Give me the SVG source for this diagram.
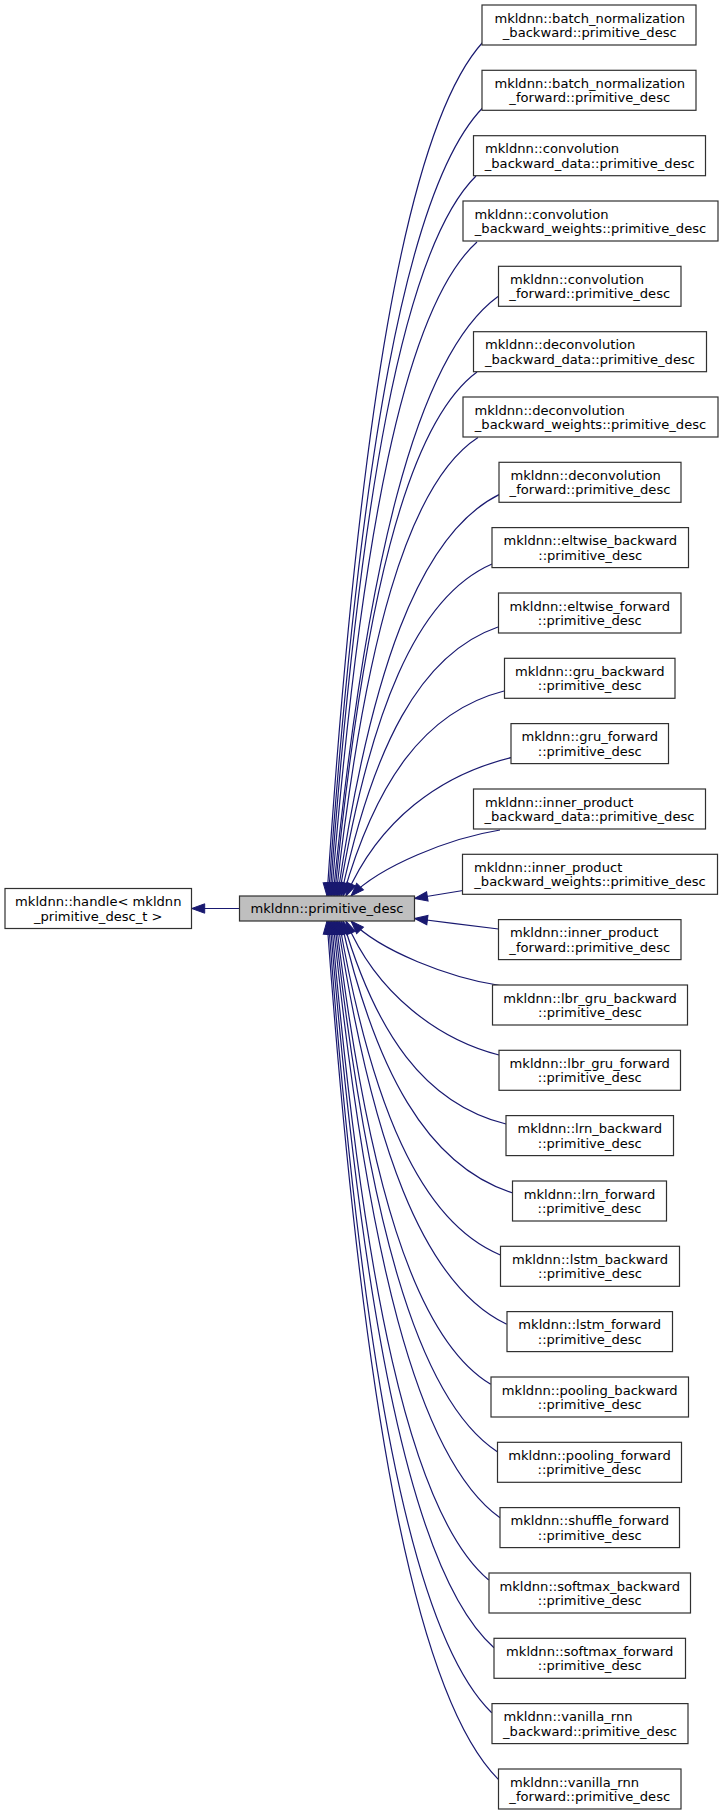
<svg xmlns="http://www.w3.org/2000/svg" width="723" height="1816" viewBox="0 0 723 1816">
<style>
text{font-family:"DejaVu Sans","Liberation Sans",sans-serif;font-size:13.1px;fill:#000}
.m{text-anchor:middle}
.n rect{fill:#fff;stroke:#303030;stroke-width:1.2}
.c rect{fill:#bfbfbf;stroke:#303030;stroke-width:1.2}
#edges path{fill:none;stroke:#191970;stroke-width:1.2;marker-end:url(#ah)}
</style>
<defs>
<marker id="ah" markerUnits="userSpaceOnUse" markerWidth="14" markerHeight="10" refX="13" refY="5" orient="auto" overflow="visible">
<path d="M0,0.3 L13,5 L0,9.7 z" fill="#191970" stroke="#191970" stroke-width="1"/>
</marker>
</defs>
<rect width="723" height="1816" fill="#fff"/>
<g id="edges">
<path d="M239.5,908.5 L191.7,908.5"/>
<path d="M483,42 C405,127.4 358.2,426.3 327,896"/>
<path d="M483,107.5 C405.8,186.4 359.4,462.3 328.5,896"/>
<path d="M476,176 C403,248 359.2,500 330,896"/>
<path d="M477,242 C404.3,307.4 360.6,536.3 331.5,896"/>
<path d="M498,296.5 C415.5,356.5 366,566.3 333,896"/>
<path d="M477,372 C405.8,424.4 363,607.8 334.5,896"/>
<path d="M478,437.5 C407,483.4 364.4,643.8 336,896"/>
<path d="M499,494.6 C418.3,534.7 369.8,675.2 337.5,896"/>
<path d="M492,564 C415.5,597.2 369.6,713.4 339,896"/>
<path d="M498,627 C419.5,653.9 372.4,748.1 341,896"/>
<path d="M504,691 C423.5,711.5 375.2,783.3 343,896"/>
<path d="M511,757.7 C440,775 379,819.9 346,896"/>
<path d="M500,830 C450,838 380,866 351,896"/>
<path d="M463,890.5 C450,892.5 430,896 414.5,898.5"/>
<path d="M498.5,929 C475,926 440,921.7 414.5,918.5"/>
<path d="M500,985.5 C450,978 380,951 351,921"/>
<path d="M499,1055 C440,1040 376.6,994.7 346,921"/>
<path d="M506,1124 C424.5,1103.7 375.6,1032.7 343,921"/>
<path d="M512.7,1193 C426.9,1165.8 375.3,1070.6 341,921"/>
<path d="M500.3,1255 C419.7,1221.6 371.3,1104.7 339,921"/>
<path d="M506.7,1324.3 C422.1,1284 371.3,1142.8 337.5,921"/>
<path d="M490.7,1384.3 C413.4,1338 366.9,1175.8 336,921"/>
<path d="M497.3,1451.7 C415.9,1398.6 367.1,1212.9 334.5,921"/>
<path d="M500,1517.7 C416.5,1458 366.4,1249.2 333,921"/>
<path d="M488.7,1580 C410.1,1514.1 362.9,1283.5 331.5,921"/>
<path d="M494,1647.7 C412,1575 362.8,1320.7 330,921"/>
<path d="M491.7,1712.7 C410.1,1633.5 361.1,1356.4 328.5,921"/>
<path d="M498.3,1779.3 C412.7,1693.5 361.3,1393.1 327,921"/>
</g>
<g id="node_handle" class="n"><rect x="5" y="888.5" width="186.5" height="40"/><text class="m" x="98.3" y="906">mkldnn::handle&lt; mkldnn</text><text class="m" x="98.3" y="920.5">_primitive_desc_t &gt;</text></g>
<g id="node_primitive_desc" class="c"><rect x="239.5" y="896" width="175" height="25"/><text class="m" x="327" y="913">mkldnn::primitive_desc</text></g>
<g id="node0" class="n"><rect x="482" y="5" width="214" height="40"/><text class="m" x="589.75" y="22.5">mkldnn::batch_normalization</text><text class="m" x="589.75" y="37">_backward::primitive_desc</text></g>
<g id="node1" class="n"><rect x="482" y="70.3" width="214" height="40"/><text class="m" x="589.75" y="87.8">mkldnn::batch_normalization</text><text class="m" x="589.75" y="102.3">_forward::primitive_desc</text></g>
<g id="node2" class="n"><rect x="473.5" y="135.7" width="232" height="40"/><text x="485" y="153.2">mkldnn::convolution</text><text class="m" x="589.75" y="167.7">_backward_data::primitive_desc</text></g>
<g id="node3" class="n"><rect x="463" y="201" width="255" height="40"/><text x="474.5" y="218.5">mkldnn::convolution</text><text class="m" x="590.5" y="233">_backward_weights::primitive_desc</text></g>
<g id="node4" class="n"><rect x="498.5" y="266.3" width="182.5" height="40"/><text x="510" y="283.8">mkldnn::convolution</text><text class="m" x="589.75" y="298.3">_forward::primitive_desc</text></g>
<g id="node5" class="n"><rect x="473.5" y="331.7" width="233" height="40"/><text x="485" y="349.2">mkldnn::deconvolution</text><text class="m" x="590" y="363.7">_backward_data::primitive_desc</text></g>
<g id="node6" class="n"><rect x="463" y="397" width="255" height="40"/><text x="474.5" y="414.5">mkldnn::deconvolution</text><text class="m" x="590.5" y="429">_backward_weights::primitive_desc</text></g>
<g id="node7" class="n"><rect x="499" y="462.3" width="182" height="40"/><text x="510.5" y="479.8">mkldnn::deconvolution</text><text class="m" x="590" y="494.3">_forward::primitive_desc</text></g>
<g id="node8" class="n"><rect x="492" y="527.6" width="196.5" height="40"/><text class="m" x="590.25" y="545.1">mkldnn::eltwise_backward</text><text class="m" x="590.25" y="559.6">::primitive_desc</text></g>
<g id="node9" class="n"><rect x="498.5" y="593" width="182.5" height="40"/><text class="m" x="589.75" y="610.5">mkldnn::eltwise_forward</text><text class="m" x="589.75" y="625">::primitive_desc</text></g>
<g id="node10" class="n"><rect x="504.5" y="658.3" width="170.5" height="40"/><text class="m" x="589.75" y="675.8">mkldnn::gru_backward</text><text class="m" x="589.75" y="690.3">::primitive_desc</text></g>
<g id="node11" class="n"><rect x="511" y="723.6" width="157.5" height="40"/><text class="m" x="589.75" y="741.1">mkldnn::gru_forward</text><text class="m" x="589.75" y="755.6">::primitive_desc</text></g>
<g id="node12" class="n"><rect x="473.5" y="789" width="232" height="40"/><text x="485" y="806.5">mkldnn::inner_product</text><text class="m" x="589.5" y="821">_backward_data::primitive_desc</text></g>
<g id="node13" class="n"><rect x="462.5" y="854.3" width="255" height="40"/><text x="474" y="871.8">mkldnn::inner_product</text><text class="m" x="590" y="886.3">_backward_weights::primitive_desc</text></g>
<g id="node14" class="n"><rect x="498.5" y="919.6" width="182.5" height="40"/><text x="510" y="937.1">mkldnn::inner_product</text><text class="m" x="589.75" y="951.6">_forward::primitive_desc</text></g>
<g id="node15" class="n"><rect x="492.5" y="985" width="195" height="40"/><text class="m" x="590" y="1002.5">mkldnn::lbr_gru_backward</text><text class="m" x="590" y="1017">::primitive_desc</text></g>
<g id="node16" class="n"><rect x="499" y="1050.3" width="181.5" height="40"/><text class="m" x="589.75" y="1067.8">mkldnn::lbr_gru_forward</text><text class="m" x="589.75" y="1082.3">::primitive_desc</text></g>
<g id="node17" class="n"><rect x="506" y="1115.6" width="167.5" height="40"/><text class="m" x="589.75" y="1133.1">mkldnn::lrn_backward</text><text class="m" x="589.75" y="1147.6">::primitive_desc</text></g>
<g id="node18" class="n"><rect x="512.5" y="1181" width="154" height="40"/><text class="m" x="589.5" y="1198.5">mkldnn::lrn_forward</text><text class="m" x="589.5" y="1213">::primitive_desc</text></g>
<g id="node19" class="n"><rect x="500.5" y="1246.3" width="179" height="40"/><text class="m" x="590" y="1263.8">mkldnn::lstm_backward</text><text class="m" x="590" y="1278.3">::primitive_desc</text></g>
<g id="node20" class="n"><rect x="507" y="1311.6" width="165.5" height="40"/><text class="m" x="589.75" y="1329.1">mkldnn::lstm_forward</text><text class="m" x="589.75" y="1343.6">::primitive_desc</text></g>
<g id="node21" class="n"><rect x="491" y="1377" width="197.5" height="40"/><text class="m" x="589.75" y="1394.5">mkldnn::pooling_backward</text><text class="m" x="589.75" y="1409">::primitive_desc</text></g>
<g id="node22" class="n"><rect x="497.5" y="1442.3" width="184" height="40"/><text class="m" x="589.5" y="1459.8">mkldnn::pooling_forward</text><text class="m" x="589.5" y="1474.3">::primitive_desc</text></g>
<g id="node23" class="n"><rect x="500" y="1507.6" width="179.5" height="40"/><text class="m" x="589.75" y="1525.1">mkldnn::shuffle_forward</text><text class="m" x="589.75" y="1539.6">::primitive_desc</text></g>
<g id="node24" class="n"><rect x="489" y="1573" width="201.5" height="40"/><text class="m" x="589.75" y="1590.5">mkldnn::softmax_backward</text><text class="m" x="589.75" y="1605">::primitive_desc</text></g>
<g id="node25" class="n"><rect x="494" y="1638.3" width="191.5" height="40"/><text class="m" x="589.75" y="1655.8">mkldnn::softmax_forward</text><text class="m" x="589.75" y="1670.3">::primitive_desc</text></g>
<g id="node26" class="n"><rect x="492" y="1703.6" width="196" height="40"/><text x="503.5" y="1721.1">mkldnn::vanilla_rnn</text><text class="m" x="590" y="1735.6">_backward::primitive_desc</text></g>
<g id="node27" class="n"><rect x="498.5" y="1769" width="182.5" height="40"/><text x="510" y="1786.5">mkldnn::vanilla_rnn</text><text class="m" x="589.75" y="1801">_forward::primitive_desc</text></g>
</svg>
